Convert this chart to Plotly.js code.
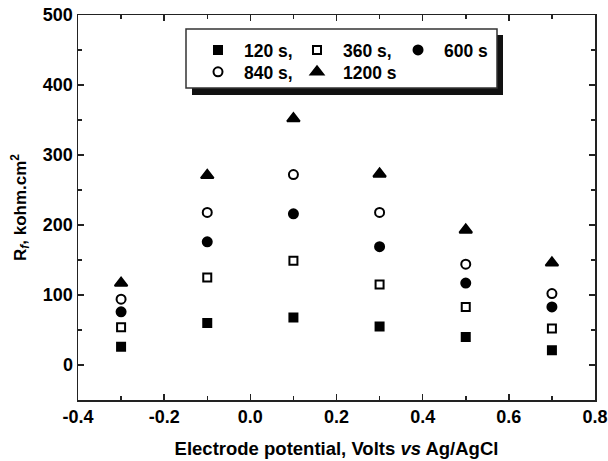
<!DOCTYPE html>
<html>
<head>
<meta charset="utf-8">
<script src="https://cdn.plot.ly/plotly-3.0.1.min.js"></script>
<style>html,body{margin:0;padding:0;background:#fff;}#chart{width:608px;height:461px;}</style>
</head>
<body>
<div id="chart"></div>
<script>
// Electrode potential (V vs Ag/AgCl)
const potential = [-0.3, -0.1, 0.1, 0.3, 0.5, 0.7];
// Rf (kohm.cm^2) for each immersion time
const series = ["120 s,", "360 s,", "600 s", "840 s,", "1200 s"];
const rf120  = [26, 60, 68, 55, 40, 21];
const rf360  = [54, 125, 149, 115, 83, 52];
const rf600  = [76, 176, 216, 169, 117, 83];
const rf840  = [94, 218, 272, 218, 144, 102];
const rf1200 = [117, 271, 352, 273, 193, 146];
const xTicks = [-0.4, -0.2, 0.0, 0.2, 0.4, 0.6, 0.8];
const yTicks = [0, 100, 200, 300, 400, 500];

const FONT = 'Liberation Sans, Arial, sans-serif';
const values = [rf120, rf360, rf600, rf840, rf1200];
const symbols = ['square', 'square-open', 'circle', 'circle-open', 'triangle-up'];
const sizes = [8, 8, 9, 9, 11];
const legendIds = ['legend', 'legend2', 'legend3', 'legend4', 'legend5'];

const traces = series.map((name, i) => ({
  type: 'scatter', mode: 'markers', name: name, x: potential, y: values[i],
  legend: legendIds[i],
  marker: {symbol: symbols[i], size: sizes[i], color: '#000', line: {color: '#000', width: 2}},
  showlegend: true
}));

// legend item positions (paper coords)
const legPos = [[0.2205, 0.909], [0.412, 0.909], [0.6074, 0.909], [0.2205, 0.852], [0.412, 0.852]];
const legFont = {family: FONT, size: 17.5, color: '#000', weight: 'bold'};

const px = v => (v - 78) / 517;
const py = v => (400 - v) / 385;

const layout = {
  width: 608, height: 461,
  margin: {l: 78, r: 13, t: 15, b: 61},
  paper_bgcolor: '#fff', plot_bgcolor: '#fff',
  font: {family: FONT, size: 17, color: '#000'},
  xaxis: {
    range: [-0.4, 0.8], tickvals: xTicks, ticktext: xTicks.map(v => v.toFixed(1)),
    ticks: 'inside', ticklen: 6, tickwidth: 1.5, tickcolor: '#222',
    showline: true, linecolor: '#222', linewidth: 1.5, mirror: 'ticks',
    showgrid: false, zeroline: false,
    tickfont: {family: FONT, size: 18, color: '#000', weight: 'bold'},
    minor: {dtick: 0.1, tick0: -0.4, ticks: 'inside', ticklen: 4, tickwidth: 1.5, tickcolor: '#222', showgrid: false},
    title: {text: 'Electrode potential, Volts <i>vs</i> Ag/AgCl', font: {family: FONT, size: 18.5, color: '#000', weight: 'bold'}, standoff: 16}
  },
  yaxis: {
    range: [-50, 500], tickvals: yTicks,
    ticks: 'inside', ticklen: 6, tickwidth: 1.5, tickcolor: '#222',
    showline: true, linecolor: '#222', linewidth: 1.5, mirror: 'ticks',
    showgrid: false, zeroline: false,
    tickfont: {family: FONT, size: 18, color: '#000', weight: 'bold'},
    minor: {dtick: 50, tick0: 0, ticks: 'inside', ticklen: 4, tickwidth: 1.5, tickcolor: '#222', showgrid: false},
    title: {text: 'R<sub><i>f</i></sub>, kohm.cm<sup>2</sup>', font: {family: FONT, size: 17, color: '#000', weight: 'bold'}, standoff: 12}
  },
  shapes: [
    {type: 'rect', xref: 'paper', yref: 'paper', x0: px(192), x1: px(503), y0: py(95), y1: py(35), fillcolor: '#111', line: {width: 0}, layer: 'above'},
    {type: 'rect', xref: 'paper', yref: 'paper', x0: px(186), x1: px(497), y0: py(88), y1: py(29), fillcolor: '#fff', line: {color: '#333', width: 1.5}, layer: 'above'}
  ],
  showlegend: true
};
legendIds.forEach((id, i) => {
  layout[id] = {
    x: legPos[i][0], y: legPos[i][1], xanchor: 'left', yanchor: 'middle',
    orientation: 'h', bgcolor: 'rgba(0,0,0,0)', borderwidth: 0,
    itemwidth: 42, font: legFont, itemclick: false, itemdoubleclick: false
  };
});

Plotly.newPlot('chart', traces, layout, {displayModeBar: false, staticPlot: true});
</script>
</body>
</html>
